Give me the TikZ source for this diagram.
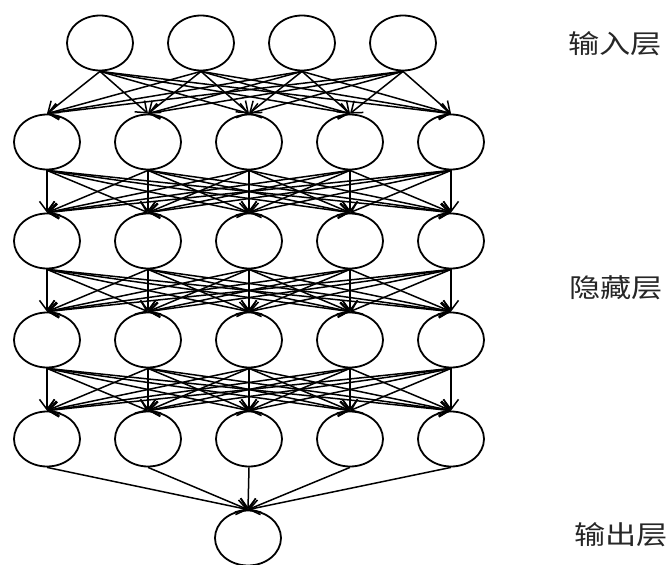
\documentclass[tikz,border=0pt]{standalone}
\usepackage{graphicx}
\usepackage{fontspec}
\newfontfamily\cjk{Noto Sans CJK SC}
\usetikzlibrary{shapes.geometric,arrows.meta}
\begin{document}
\begin{tikzpicture}[x=1pt,y=-1pt,
  neuron/.style={ellipse,draw,line width=1.8pt,minimum width=66pt,minimum height=55pt,inner sep=0pt},
  conn/.style={line width=1.5pt,-{Straight Barb[length=10pt,width=15pt]}},
  lbl/.style={font=\cjk\fontsize{26}{30}\selectfont,text=black!85,inner sep=0pt}]
\useasboundingbox (0,0) rectangle (670,565);
% input layer
\foreach \x [count=\i] in {100,201,302,403}
  \node[neuron] (i\i) at (\x,43) {};
% hidden layers
\foreach \y [count=\r] in {142,241,340,439}
  \foreach \x [count=\c] in {47,148,249,350,451}
    \node[neuron] (h\r\c) at (\x,\y) {};
% output layer
\node[neuron] (o) at (248,538) {};
% connectors
\foreach \a in {1,...,4}
  \foreach \b in {1,...,5}
    \draw[conn] (i\a.south) -- (h1\b.north);
\foreach \r [evaluate=\r as \s using int(\r+1)] in {1,2,3}
  \foreach \a in {1,...,5}
    \foreach \b in {1,...,5}
      \draw[conn] (h\r\a.south) -- (h\s\b.north);
\foreach \a in {1,...,5}
  \draw[conn] (h4\a.south) -- (o.north);
% labels
\node[lbl] (t1) at (615,43.5) {\scalebox{1.2}[1]{输入层}};
\node[lbl] (t2) at (616,288) {\scalebox{1.2}[1]{隐藏层}};
\node[lbl] (t3) at (621,535) {\scalebox{1.2}[1]{输出层}};
\end{tikzpicture}
\end{document}
